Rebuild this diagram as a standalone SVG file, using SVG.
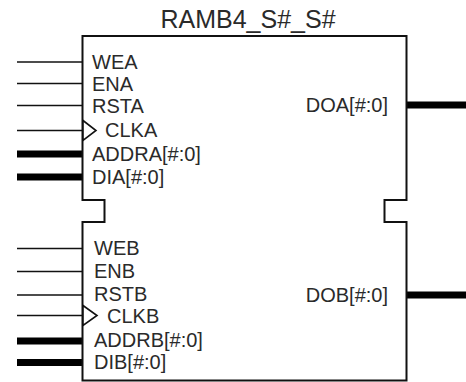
<svg xmlns="http://www.w3.org/2000/svg" width="466" height="382" viewBox="0 0 466 382">
<style>
text{font-family:"Liberation Sans",Arial,sans-serif;fill:#2a2a2a;}
.lbl{font-size:20px;}
.r{text-anchor:end;}
.thin{stroke:#111;stroke-width:1.6;fill:none;}
.bus{stroke:#000;stroke-width:7;fill:none;}
.clk{stroke:#111;stroke-width:1.6;fill:#fff;}
</style>
<rect width="466" height="382" fill="#fff"/>
<g id="connectors">
<line class="thin" x1="17" y1="62" x2="82.5" y2="62"/>
<line class="thin" x1="17" y1="83.5" x2="82.5" y2="83.5"/>
<line class="thin" x1="17" y1="105.5" x2="82.5" y2="105.5"/>
<line class="thin" x1="17" y1="130.5" x2="82.5" y2="130.5"/>
<line class="bus" x1="17" y1="154" x2="82.5" y2="154"/>
<line class="bus" x1="17" y1="177" x2="82.5" y2="177"/>
<line class="thin" x1="17" y1="248.5" x2="82.5" y2="248.5"/>
<line class="thin" x1="17" y1="271.5" x2="82.5" y2="271.5"/>
<line class="thin" x1="17" y1="295" x2="82.5" y2="295"/>
<line class="thin" x1="17" y1="315.5" x2="82.5" y2="315.5"/>
<line class="bus" x1="17" y1="341" x2="82.5" y2="341"/>
<line class="bus" x1="17" y1="362.5" x2="82.5" y2="362.5"/>
<line class="bus" x1="406.5" y1="105" x2="466" y2="105"/>
<line class="bus" x1="406.5" y1="295" x2="466" y2="295"/>
</g>
<g id="ramb4">
<path d="M82.5 36 H406.5 V200 H384.5 V222 H406.5 V380.5 H82.5 V222 H104.5 V200 H82.5 Z" fill="none" stroke="#111" stroke-width="2"/>
<text x="248" y="28" font-size="25" text-anchor="middle">RAMB4_S#_S#</text>
<polygon class="clk" points="83,120.5 96,130.5 83,140.5"/>
<polygon class="clk" points="83,305.5 97,315.5 83,325.5"/>
<text class="lbl" x="92" y="69">WEA</text>
<text class="lbl" x="92" y="90.5">ENA</text>
<text class="lbl" x="92" y="112.5">RSTA</text>
<text class="lbl" x="105" y="137">CLKA</text>
<text class="lbl" x="92" y="160.5">ADDRA[#:0]</text>
<text class="lbl" x="92" y="183.5">DIA[#:0]</text>
<text class="lbl" x="94" y="255">WEB</text>
<text class="lbl" x="94" y="278">ENB</text>
<text class="lbl" x="94" y="301">RSTB</text>
<text class="lbl" x="107" y="322.5">CLKB</text>
<text class="lbl" x="94" y="347">ADDRB[#:0]</text>
<text class="lbl" x="94" y="369">DIB[#:0]</text>
<text class="lbl r" x="388" y="112">DOA[#:0]</text>
<text class="lbl r" x="388" y="302">DOB[#:0]</text>
</g>
</svg>
